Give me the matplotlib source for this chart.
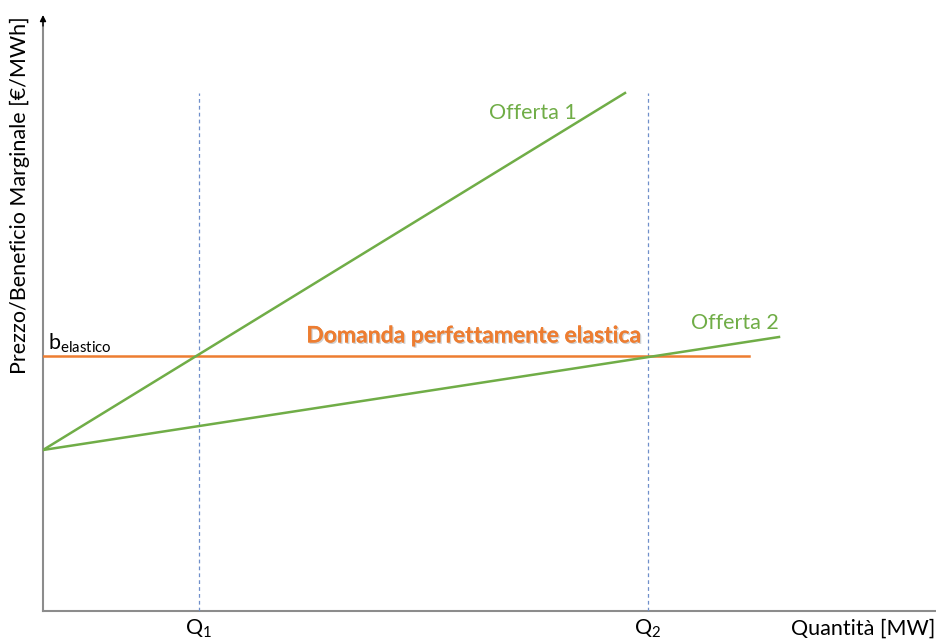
import matplotlib.pyplot as plt
import matplotlib.patheffects as pe

plt.rcParams['font.family'] = ['Lato', 'DejaVu Sans']
plt.rcParams['mathtext.fontset'] = 'custom'
plt.rcParams['mathtext.rm'] = 'Lato'

# Data (diagram units, origin at axes corner)
offerta1_x = [0, 582]
offerta1_y = [161, 518]
offerta2_x = [0, 736]
offerta2_y = [161, 274]
domanda_x = [0, 706]
domanda_y = [255, 255]
q_values = [156, 605]
q_labels = [r'Q$_1$', r'Q$_2$']
q_top = 518

green = '#70AD47'
orange = '#ED7D31'
blue = '#6f8fca'

fig = plt.figure(figsize=(9.37, 6.41), dpi=100)
ax = fig.add_axes([43 / 937, 30 / 641, 894 / 937, 596 / 641])
ax.set_xlim(0, 894)
ax.set_ylim(0, 596)
ax.axis('off')

# axes lines
ax.plot([0, 894], [0, 0], color='#8c8c8c', lw=1.5, clip_on=False)
ax.plot([0, 0], [0, 590], color='#8c8c8c', lw=1.5, clip_on=False)
ax.annotate('', xy=(0, 596), xytext=(0, 585),
            arrowprops=dict(arrowstyle='-|>', color='black', lw=1,
                            mutation_scale=9, shrinkA=0, shrinkB=0),
            annotation_clip=False)

# vertical dashed lines
for q in q_values:
    ax.plot([q, q], [0, q_top], color=blue, lw=0.9, ls=(0, (3, 2.5)))

ax.plot(domanda_x, domanda_y, color=orange, lw=1.8)
ax.plot(offerta1_x, offerta1_y, color=green, lw=1.8)
ax.plot(offerta2_x, offerta2_y, color=green, lw=1.8)

fs = 15.5
ax.text(489 - 43, 611 - 113, 'Offerta 1', color=green, fontsize=fs, va='center', ha='left')
ax.text(779 - 43, 611 - 323, 'Offerta 2', color=green, fontsize=fs, va='center', ha='right')
ax.text(473 - 43, 611 - 336, 'Domanda perfettamente elastica', color=orange, fontsize=16.5,
        fontweight='bold', va='center', ha='center',
        path_effects=[pe.withSimplePatchShadow(offset=(1, -1), shadow_rgbFace='#b0b0b0', alpha=0.6),
                      pe.Normal()])
ax.text(48 - 43, 611 - 343, r'b$_{\mathrm{elastico}}$', color='black', fontsize=fs,
        va='center', ha='left')

for q, lab in zip(q_values, q_labels):
    ax.text(q, -18, lab, fontsize=fs, ha='center', va='center')

ax.text(935 - 43, -18, 'Quantità [MW]', fontsize=fs, ha='right', va='center')
ax.text(-23, 611 - 195, 'Prezzo/Beneficio Marginale [€/MWh]', fontsize=fs,
        rotation=90, ha='center', va='center')

fig.savefig('out.png', dpi=100)
